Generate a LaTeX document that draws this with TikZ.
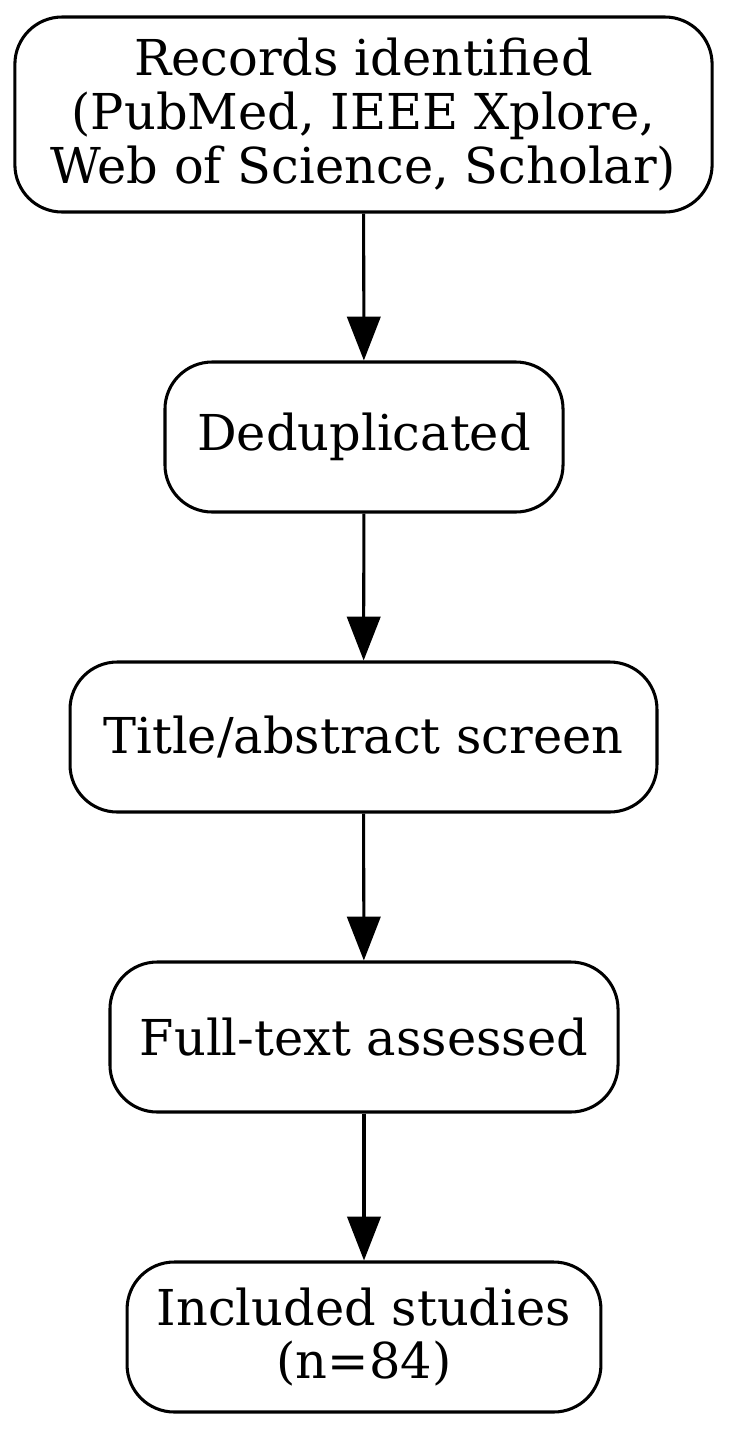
\documentclass[tikz,border=0pt]{standalone}
\usepackage{fontspec}
\setmainfont{DejaVu Serif}
\usetikzlibrary{arrows.meta}
\begin{document}
\begin{tikzpicture}[x=0.36pt,y=-0.36pt,
  stage/.style={draw=black, line width=1.1pt, rounded corners=17pt, inner sep=0pt,
    minimum height=54pt, align=center, font=\fontsize{17.8pt}{19.4pt}\selectfont},
  flow/.style={draw=black, line width=1.1pt, -{Triangle[length=15.8pt,width=12pt]}}]
\useasboundingbox (0,0) rectangle (729,1429);
\node[stage, minimum width=251pt, minimum height=70.2pt] (rec) at (363.5,114.5) {Records identified\\(PubMed, IEEE Xplore,\\Web of Science, Scholar)};
\node[stage, minimum width=143.3pt] (dedup) at (364,437) {Deduplicated};
\node[stage, minimum width=211.3pt] (screen) at (363.5,737) {Title/abstract screen};
\node[stage, minimum width=182.9pt] (full) at (364,1037) {Full-text assessed};
\node[stage, minimum width=170.6pt] (incl) at (364,1337) {Included studies\\(n=84)};
\draw[flow] (rec) -- (dedup);
\draw[flow] (dedup) -- (screen);
\draw[flow] (screen) -- (full);
\draw[flow] (full) -- (incl);
\end{tikzpicture}
\end{document}
